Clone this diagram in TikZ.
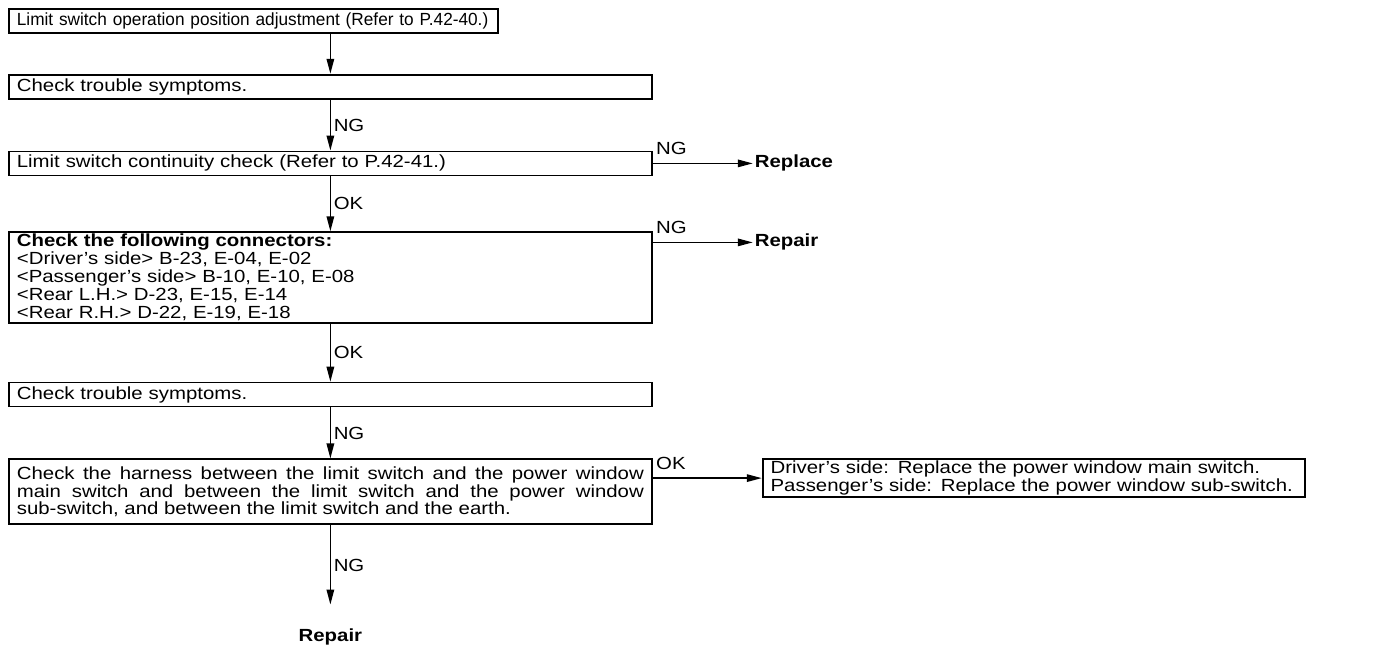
\documentclass[tikz,border=0pt]{standalone}
\usepackage{fontspec}
\setmainfont[FakeStretch=1.16]{Liberation Sans}
\newfontfamily\narrowsans[FakeStretch=0.98]{Liberation Sans}
\usetikzlibrary{arrows.meta, positioning}

\begin{document}
\begin{tikzpicture}[
        node distance=1.0cm,
        every node/.style={font=\fontsize{10}{10.2}\selectfont},
        stepbox/.style={rectangle, draw, line width=1pt, align=left,
            text width=12.54cm, inner xsep=0.16cm, inner ysep=0.06cm,
            minimum height=0.48cm},
        endtxt/.style={font=\fontsize{10}{10.2}\selectfont\bfseries,
            inner sep=1pt},
        lbl/.style={inner sep=1.5pt},
        sidelbl/.style={inner sep=1.5pt, pos=0, anchor=south west, yshift=3pt},
        arr/.style={line width=0.85pt, -{Triangle[length=3mm,width=1.5mm]}}
    ]
    \useasboundingbox (0,0) rectangle (27.9,-13.04);
    \node (adj)   [stepbox, text width=9.46cm, anchor=north west,
                   font=\fontsize{10}{10.2}\narrowsans] at (0.16,-0.16)
                  {Limit switch operation position adjustment (Refer to P.42-40.)};
    \node (sym1)  [stepbox, below=0.8cm of adj.south west, anchor=north west]
                  {Check trouble symptoms.};
    \node (cont)  [stepbox, below=1.02cm of sym1]
                  {Limit switch continuity check (Refer to P.42-41.)};
    \node (conn)  [stepbox, below=1.1cm of cont, inner ysep=0.04cm]
                  {\textbf{Check the following connectors:}\\
                   <Driver's side> B-23, E-04, E-02\\
                   <Passenger's side> B-10, E-10, E-08\\
                   <Rear L.H.> D-23, E-15, E-14\\
                   <Rear R.H.> D-22, E-19, E-18};
    \node (sym2)  [stepbox, below=1.16cm of conn] {Check trouble symptoms.};
    \node (harn)  [stepbox, below=1.02cm of sym2, align=justify, inner ysep=0.14cm]
                  {Check the harness between the limit switch and the power window\linebreak
                   main switch and between the limit switch and the power window\linebreak
                   sub-switch, and between the limit switch and the earth.};
    \node (rep2)  [endtxt, below=2.04cm of harn] {Repair};
    \node (repl)  [endtxt, right=2.0cm of cont] {Replace};
    \node (rep1)  [endtxt, below=1.58cm of repl.west, anchor=west] {Repair};
    \node (swap)  [stepbox, text width=10.52cm, inner ysep=0.03cm,
                   font=\fontsize{10}{9.2}\selectfont,
                   right=2.18cm of harn.north east, anchor=north west]
                  {Driver's side: Replace the power window main switch.\\
                   Passenger's side: Replace the power window sub-switch.};

    \draw [arr] (adj.south -| sym1.south) -- (sym1.north);
    \draw [arr] (sym1) -- node[lbl, right]{NG} (cont);
    \draw [arr] (cont) -- node[lbl, right]{OK} (conn);
    \draw [arr] (conn) -- node[lbl, right]{OK} (sym2);
    \draw [arr] (sym2) -- node[lbl, right]{NG} (harn);
    \draw [arr, shorten >=0.45cm] (harn) -- node[lbl, right, pos=0.4]{NG} (rep2);
    \draw [arr] (cont.east) -- node[sidelbl]{NG} (repl.west);
    \draw [arr] (conn.east |- rep1.west) -- node[sidelbl]{NG} (rep1.west);
    \draw [arr] (harn.east |- swap.west) -- node[sidelbl]{OK} (swap.west);
\end{tikzpicture}
\end{document}
